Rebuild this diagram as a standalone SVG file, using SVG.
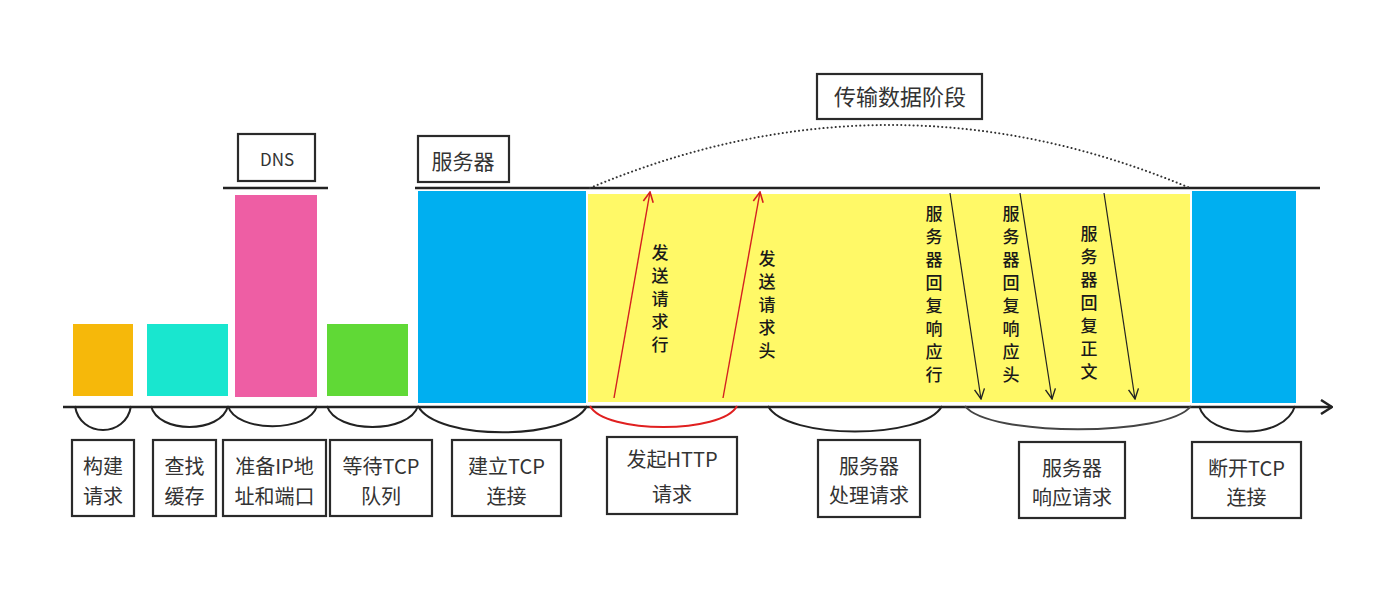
<svg xmlns="http://www.w3.org/2000/svg" width="1384" height="592" viewBox="0 0 1384 592">
  <style>
    .box { fill: #ffffff; stroke: #2a2a2a; stroke-width: 2.2; }
    .lbl { font-family: "Noto Sans CJK SC", "Noto Sans", sans-serif; font-size: 20px; fill: #333; text-anchor: middle; }
    .vt { font-family: "Noto Sans CJK SC", sans-serif; font-size: 17px; font-weight: 500; fill: #1a1a1a; text-anchor: middle; }
    .base { stroke: #222; stroke-width: 2.5; fill: none; }
    .arc { stroke: #222; stroke-width: 2; fill: none; }
    .up { stroke: #d42020; stroke-width: 1.4; fill: none; }
    .down { stroke: #222; stroke-width: 1.2; fill: none; }
  </style>
  <defs>
    <marker id="redHead" viewBox="0 0 12 12" refX="11" refY="6" markerWidth="12" markerHeight="12" markerUnits="userSpaceOnUse" orient="auto">
      <path d="M1,1 L11,6 L1,11" fill="none" stroke="#d42020" stroke-width="1.6"/>
    </marker>
    <marker id="blackHead" viewBox="0 0 12 12" refX="11" refY="6" markerWidth="12" markerHeight="12" markerUnits="userSpaceOnUse" orient="auto">
      <path d="M1,1 L11,6 L1,11" fill="none" stroke="#222" stroke-width="1.4"/>
    </marker>
    <marker id="axisHead" viewBox="0 0 14 16" refX="13" refY="8" markerWidth="14" markerHeight="16" markerUnits="userSpaceOnUse" orient="auto">
      <path d="M2,1 L13,8 L2,15" fill="none" stroke="#222" stroke-width="2.5"/>
    </marker>
  </defs>

  <rect width="1384" height="592" fill="#ffffff"/>

  <!-- bars -->
  <g id="bars">
    <rect id="bar-build" x="73" y="324" width="60" height="72" fill="#f6b80a"/>
    <rect id="bar-cache" x="147" y="324" width="81" height="72" fill="#19e6cf"/>
    <rect id="bar-dns" x="235" y="195" width="82" height="202" fill="#ee5ea4"/>
    <rect id="bar-queue" x="327" y="324" width="81" height="72" fill="#60d936"/>
    <rect id="bar-tcp" x="418" y="191" width="168" height="212" fill="#00aff0"/>
    <rect id="bar-transfer" x="588" y="194" width="602" height="208" fill="#fff967"/>
    <rect id="bar-close" x="1192" y="191" width="104" height="212" fill="#00aff0"/>
  </g>

  <!-- top labels -->
  <g id="node-dns">
    <line x1="223" y1="188" x2="328" y2="188" class="base"/>
    <rect x="238" y="134" width="77" height="47" class="box"/>
    <text x="277" y="166" class="lbl" style="font-size:17px">DNS</text>
  </g>
  <g id="node-server">
    <line x1="415" y1="188" x2="1320" y2="188" class="base"/>
    <rect x="418" y="136" width="91" height="46" class="box"/>
    <text x="463" y="169" class="lbl" style="font-size:21px">服务器</text>
  </g>
  <g id="node-transfer-phase">
    <rect x="817" y="74" width="165" height="45" class="box"/>
    <text x="900" y="105" class="lbl" style="font-size:22px">传输数据阶段</text>
  </g>

  <!-- bottom labels -->
  <g id="node-build">
    <rect x="72" y="440" width="62" height="76" class="box"/>
    <text class="lbl"><tspan x="103" y="474">构建</tspan><tspan x="103" y="504">请求</tspan></text>
  </g>
  <g id="node-cache">
    <rect x="153" y="440" width="63" height="76" class="box"/>
    <text class="lbl"><tspan x="184.5" y="474">查找</tspan><tspan x="184.5" y="504">缓存</tspan></text>
  </g>
  <g id="node-ip">
    <rect x="223" y="440" width="103" height="76" class="box"/>
    <text class="lbl"><tspan x="274.5" y="474">准备IP地</tspan><tspan x="274.5" y="504">址和端口</tspan></text>
  </g>
  <g id="node-queue">
    <rect x="330" y="440" width="102" height="76" class="box"/>
    <text class="lbl"><tspan x="381" y="474">等待TCP</tspan><tspan x="381" y="504">队列</tspan></text>
  </g>
  <g id="node-tcp">
    <rect x="452" y="440" width="109" height="76" class="box"/>
    <text class="lbl"><tspan x="506.5" y="474">建立TCP</tspan><tspan x="506.5" y="504">连接</tspan></text>
  </g>
  <g id="node-http">
    <rect x="607" y="437" width="130" height="77" class="box"/>
    <text class="lbl"><tspan x="672" y="467">发起HTTP</tspan><tspan x="672" y="502">请求</tspan></text>
  </g>
  <g id="node-process">
    <rect x="818" y="440" width="102" height="77" class="box"/>
    <text class="lbl"><tspan x="869" y="474">服务器</tspan><tspan x="869" y="503">处理请求</tspan></text>
  </g>
  <g id="node-respond">
    <rect x="1019" y="442" width="106" height="76" class="box"/>
    <text class="lbl"><tspan x="1072" y="476">服务器</tspan><tspan x="1072" y="505">响应请求</tspan></text>
  </g>
  <g id="node-close">
    <rect x="1192" y="442" width="109" height="76" class="box"/>
    <text class="lbl"><tspan x="1246.5" y="476">断开TCP</tspan><tspan x="1246.5" y="505">连接</tspan></text>
  </g>

  <!-- vertical arrow labels -->
  <g id="labels-arrows">
    <text class="vt"><tspan x="660" y="259">发</tspan><tspan x="660" dy="23">送</tspan><tspan x="660" dy="23">请</tspan><tspan x="660" dy="23">求</tspan><tspan x="660" dy="23">行</tspan></text>
    <text class="vt"><tspan x="767" y="265">发</tspan><tspan x="767" dy="23">送</tspan><tspan x="767" dy="23">请</tspan><tspan x="767" dy="23">求</tspan><tspan x="767" dy="23">头</tspan></text>
    <text class="vt"><tspan x="934" y="220">服</tspan><tspan x="934" dy="23">务</tspan><tspan x="934" dy="23">器</tspan><tspan x="934" dy="23">回</tspan><tspan x="934" dy="23">复</tspan><tspan x="934" dy="23">响</tspan><tspan x="934" dy="23">应</tspan><tspan x="934" dy="23">行</tspan></text>
    <text class="vt"><tspan x="1011" y="220">服</tspan><tspan x="1011" dy="23">务</tspan><tspan x="1011" dy="23">器</tspan><tspan x="1011" dy="23">回</tspan><tspan x="1011" dy="23">复</tspan><tspan x="1011" dy="23">响</tspan><tspan x="1011" dy="23">应</tspan><tspan x="1011" dy="23">头</tspan></text>
    <text class="vt"><tspan x="1089" y="240">服</tspan><tspan x="1089" dy="23">务</tspan><tspan x="1089" dy="23">器</tspan><tspan x="1089" dy="23">回</tspan><tspan x="1089" dy="23">复</tspan><tspan x="1089" dy="23">正</tspan><tspan x="1089" dy="23">文</tspan></text>
  </g>

  <!-- connectors -->
  <g id="connectors">
    <!-- transfer phase dotted arc -->
    <path d="M590,188 Q890,62 1190,188" fill="none" stroke="#333" stroke-width="2" stroke-dasharray="0.1 4" stroke-linecap="round"/>
    <!-- timeline axis -->
    <line x1="63" y1="407" x2="1332" y2="407" class="base" marker-end="url(#axisHead)"/>
    <!-- request arrows -->
    <line x1="614" y1="398" x2="650" y2="192" class="up" marker-end="url(#redHead)"/>
    <line x1="723" y1="398" x2="760" y2="192" class="up" marker-end="url(#redHead)"/>
    <!-- response arrows -->
    <line x1="950" y1="193" x2="981" y2="399" class="down" marker-end="url(#blackHead)"/>
    <line x1="1020" y1="193" x2="1052" y2="399" class="down" marker-end="url(#blackHead)"/>
    <line x1="1104" y1="193" x2="1135" y2="399" class="down" marker-end="url(#blackHead)"/>
    <!-- braces under axis -->
    <path d="M75,406 C80,438 126,438 131,406" class="arc"/>
    <path d="M151,406 C158,434 221,434 228,406" class="arc"/>
    <path d="M228,406 C236,433 309,433 317,406" class="arc"/>
    <path d="M327,406 C336,434 409,434 418,406" class="arc"/>
    <path d="M418,406 C436,441 569,441 587,406" class="arc"/>
    <path d="M590,406 C605,434 722,434 737,406" stroke="#e02020" stroke-width="2" fill="none"/>
    <path d="M768,406 C786,440 924,440 942,406" class="arc"/>
    <path d="M965,406 C988,437 1168,437 1191,406" stroke="#444" stroke-width="2" fill="none"/>
    <path d="M1199,406 C1209,440 1285,440 1295,406" class="arc"/>
  </g>
</svg>
